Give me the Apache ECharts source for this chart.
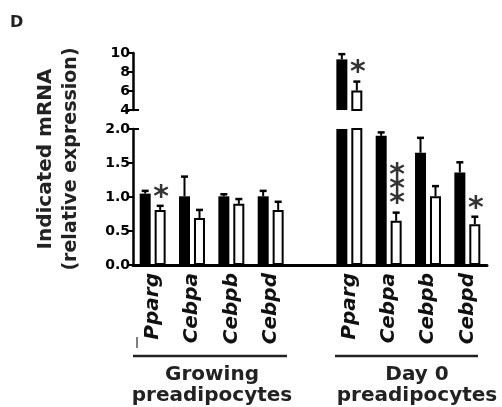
<!DOCTYPE html>
<html>
<head>
<meta charset="utf-8">
<title>Indicated mRNA</title>
<script src="https://cdn.jsdelivr.net/npm/echarts@6/dist/echarts.min.js"></script>
<style>
  html, body { margin: 0; padding: 0; background: #fff; }
  #chart { width: 502px; height: 407px; }
</style>
</head>
<body>
<div id="chart"></div>
<script>
  // categories (blank slot separates the two groups)
  const genes = ['Pparg', 'Cebpa', 'Cebpb', 'Cebpd', '', 'Pparg', 'Cebpa', 'Cebpb', 'Cebpd'];
  // black bars / white bars, mean and SEM
  const blackMean = [1.05, 1.01, 1.01, 1.01, null, 9.33, 1.90, 1.65, 1.36];
  const blackSem = [0.04, 0.29, 0.03, 0.08, null, 0.55, 0.05, 0.22, 0.15];
  const whiteMean = [0.81, 0.69, 0.90, 0.81, null, 6.04, 0.65, 1.01, 0.60];
  const whiteSem = [0.06, 0.12, 0.07, 0.12, null, 0.95, 0.12, 0.15, 0.11];
  const stars = ['*', '', '', '', '', '*', '***', '', '*'];
  // broken y axis: lower and upper ranges
  const lowRange = [0, 2, 0.5];
  const highRange = [4, 10, 2];
  const groupNames = ['Growing\npreadipocytes', 'Day 0\npreadipocytes'];
  const yTitle = ['Indicated mRNA', '(relative expression)'];

  const FONT = 'DejaVu Sans';
  const chart = echarts.init(document.getElementById('chart'));

  // error bar (+ significance stars) drawn on top of each bar
  function errorBars(mean, sem, offset, withStars, lo, hi) {
    return function (params, api) {
      const i = api.value(0);
      const m = mean[i];
      if (m == null || m > hi || m < lo) return;
      const base = api.coord([i, m]);
      const top = api.coord([i, m + sem[i]]);
      const x = base[0] + offset;
      const children = [
        { type: 'line', shape: { x1: x, y1: base[1], x2: x, y2: top[1] }, style: { stroke: '#000', lineWidth: 2 } },
        { type: 'line', shape: { x1: x - 3.5, y1: top[1], x2: x + 3.5, y2: top[1] }, style: { stroke: '#000', lineWidth: 2.5 } }
      ];
      if (withStars && stars[i]) {
        children.push({
          type: 'text',
          style: {
            x: x + 1, y: top[1] - 1,
            text: stars[i].split('').join('\n'),
            font: 'bold 30px ' + FONT,
            lineHeight: 14,
            fill: '#333',
            align: 'center',
            verticalAlign: 'bottom'
          }
        });
      }
      return { type: 'group', children: children };
    };
  }

  function yAxisFor(gridIndex, r, digits) {
    return {
      type: 'value', gridIndex: gridIndex, min: r[0], max: r[1], interval: r[2],
      axisLine: { show: true, lineStyle: { color: '#000', width: 2.5 } },
      axisTick: { show: true, length: 6, lineStyle: { color: '#000', width: 2 } },
      splitLine: { show: false },
      axisLabel: {
        color: '#000', fontFamily: FONT, fontWeight: 'bold', fontSize: 14, margin: 3,
        formatter: v => v.toFixed(digits)
      }
    };
  }

  function seriesFor(idx) {
    const r = idx === 0 ? lowRange : highRange;
    const data = genes.map((g, i) => i);
    return [
      { type: 'bar', xAxisIndex: idx, yAxisIndex: idx, data: blackMean, barWidth: 11, barGap: '36%',
        itemStyle: { color: '#000' }, silent: true },
      { type: 'bar', xAxisIndex: idx, yAxisIndex: idx, data: whiteMean, barWidth: 11, barGap: '36%',
        itemStyle: { color: '#fff', borderColor: '#000', borderWidth: 2 }, silent: true },
      { type: 'custom', xAxisIndex: idx, yAxisIndex: idx, data: data, z: 5, silent: true,
        renderItem: errorBars(blackMean, blackSem, -7.5, false, r[0], r[1]) },
      { type: 'custom', xAxisIndex: idx, yAxisIndex: idx, data: data, z: 5, silent: true,
        renderItem: errorBars(whiteMean, whiteSem, 7.5, true, r[0], r[1]) }
    ];
  }

  const labelStyle = { font: 'bold 20px ' + FONT, fill: '#222', align: 'center', lineHeight: 21 };

  chart.setOption({
    animation: false,
    grid: [
      { left: 133, right: 15, top: 129, height: 136 },
      { left: 133, right: 15, top: 53, height: 57 }
    ],
    xAxis: [
      {
        type: 'category', gridIndex: 0, data: genes,
        axisLine: { lineStyle: { color: '#000', width: 3 } },
        axisTick: { show: false },
        axisLabel: {
          interval: 0, rotate: 90, margin: 8, color: '#111',
          fontFamily: FONT, fontWeight: 'bold', fontStyle: 'italic', fontSize: 20
        }
      },
      { type: 'category', gridIndex: 1, data: genes, show: false }
    ],
    yAxis: [yAxisFor(0, lowRange, 1), yAxisFor(1, highRange, 0)],
    series: seriesFor(0).concat(seriesFor(1)),
    graphic: [
      { type: 'text', left: 10, top: 15, style: { text: 'D', font: 'bold 16px ' + FONT, fill: '#222' } },
      { type: 'text', x: 46, y: 159, rotation: Math.PI / 2,
        style: { text: yTitle[0], font: 'bold 20px ' + FONT, fill: '#222', align: 'center', verticalAlign: 'middle' } },
      { type: 'text', x: 71, y: 159, rotation: Math.PI / 2,
        style: { text: yTitle[1], font: 'bold 19px ' + FONT, fill: '#222', align: 'center', verticalAlign: 'middle' } },
      // axis break caps
      { type: 'line', shape: { x1: 133, y1: 110, x2: 139, y2: 110 }, style: { stroke: '#000', lineWidth: 2 } },
      { type: 'line', shape: { x1: 133, y1: 129, x2: 139, y2: 129 }, style: { stroke: '#000', lineWidth: 2 } },
      { type: 'line', shape: { x1: 137, y1: 337, x2: 137, y2: 348 }, style: { stroke: '#000', lineWidth: 1 } },
      // group underlines + names
      { type: 'line', shape: { x1: 133, y1: 356, x2: 287, y2: 356 }, style: { stroke: '#222', lineWidth: 2.5 } },
      { type: 'line', shape: { x1: 335, y1: 356, x2: 478, y2: 356 }, style: { stroke: '#222', lineWidth: 2.5 } },
      { type: 'text', x: 212, y: 364, style: Object.assign({ text: groupNames[0] }, labelStyle) },
      { type: 'text', x: 417, y: 364, style: Object.assign({ text: groupNames[1] }, labelStyle) }
    ]
  });
</script>
</body>
</html>
